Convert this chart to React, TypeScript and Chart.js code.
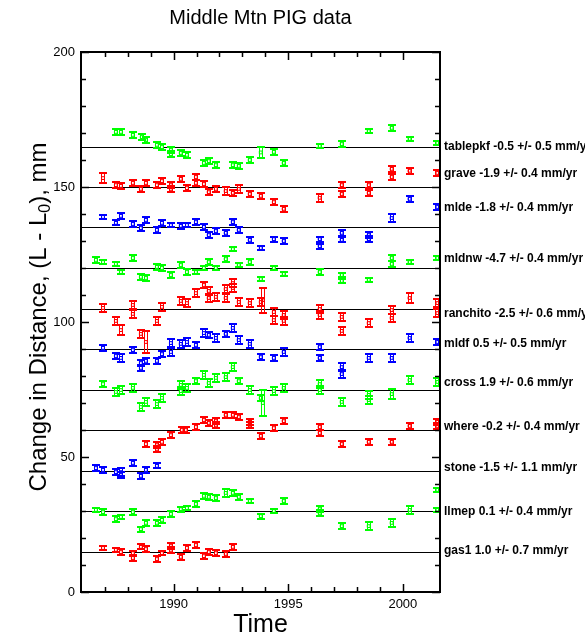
import React, { useEffect, useRef } from "react";
import { Chart, registerables } from "chart.js";
Chart.register(...registerables);

const FONT = '"Liberation Sans", Arial, Helvetica, sans-serif';
const TITLE = "Middle Mtn PIG data";
const X_TITLE = "Time";
const Y_TITLE_PARTS = ["Change in Distance, (L - L", "0", "), mm"];

const X_MIN = 1985.96;
const X_MAX = 2001.62;
const Y_MIN = 0;
const Y_MAX = 200;

const seriesNames = ["tablepkf", "grave", "mlde", "mldnw", "ranchito", "mldf", "cross", "where", "stone", "llmep", "gas1"];
const seriesColors = ["#00ff00", "#ff0000", "#0000ff", "#00ff00", "#ff0000", "#0000ff", "#00ff00", "#ff0000", "#0000ff", "#00ff00", "#ff0000"];
const baselines = [165, 150, 135, 120, 105, 90, 75, 60, 45, 30, 15];
const labelTexts = [
  "tablepkf -0.5 +/- 0.5 mm/yr",
  "grave -1.9 +/- 0.4 mm/yr",
  "mlde -1.8 +/- 0.4 mm/yr",
  "mldnw -4.7 +/- 0.4 mm/yr",
  "ranchito -2.5 +/- 0.6 mm/yr",
  "mldf 0.5 +/- 0.5 mm/yr",
  "cross 1.9 +/- 0.6 mm/yr",
  "where -0.2 +/- 0.4 mm/yr",
  "stone -1.5 +/- 1.1 mm/yr",
  "llmep 0.1 +/- 0.4 mm/yr",
  "gas1 1.0 +/- 0.7 mm/yr",
];
const labelY = [165.1, 154.8, 142.5, 123.6, 103.0, 92.1, 77.5, 61.2, 46.2, 29.7, 15.3];

// [year, value (mm), half error (mm)]
type P = [number, number, number];

const tablepkf: P[] = [
  [1987.48, 170.4, 1.0], [1987.70, 170.4, 1.0], [1988.22, 169.3, 1.0], [1988.61, 168.5, 1.0],
  [1988.79, 167.4, 1.2], [1989.27, 165.6, 1.0], [1989.49, 164.8, 1.0], [1989.88, 163.7, 1.0],
  [1989.88, 162.2, 1.0], [1990.31, 162.6, 1.0], [1990.58, 161.9, 1.0], [1991.32, 158.9, 1.0],
  [1991.53, 159.6, 1.2], [1991.84, 158.1, 1.0], [1992.58, 158.1, 1.0], [1992.84, 157.8, 1.0],
  [1993.32, 160.0, 1.0], [1993.80, 162.8, 2.1], [1994.37, 163.0, 1.0], [1994.80, 158.9, 1.0],
  [1996.37, 165.2, 0.8], [1997.33, 165.9, 1.0], [1998.51, 170.7, 0.8], [1999.51, 171.9, 1.0],
  [2000.29, 167.8, 0.8], [2001.51, 166.3, 0.7],
];
const grave: P[] = [
  [1986.92, 153.3, 1.9], [1987.48, 150.7, 1.2], [1987.70, 150.4, 1.2], [1988.22, 151.5, 1.2],
  [1988.57, 149.3, 1.2], [1988.79, 151.5, 1.2], [1989.27, 150.7, 1.2], [1989.49, 152.2, 1.2],
  [1989.88, 150.7, 1.2], [1989.88, 149.3, 1.0], [1990.31, 153.0, 1.2], [1990.58, 149.6, 1.2],
  [1990.97, 153.7, 1.2], [1990.97, 151.5, 1.2], [1991.32, 151.1, 1.2], [1991.53, 148.1, 1.2],
  [1991.84, 149.3, 1.2], [1992.27, 148.5, 1.4], [1992.58, 147.8, 1.2], [1992.84, 149.3, 1.4],
  [1993.32, 147.4, 1.0], [1993.80, 146.7, 1.2], [1994.37, 144.4, 1.0], [1994.80, 141.9, 1.0],
  [1996.37, 146.0, 1.4], [1997.33, 150.7, 1.0], [1997.33, 147.4, 1.0], [1998.51, 150.7, 1.0],
  [1998.51, 147.8, 1.0], [1999.51, 156.7, 1.0], [1999.51, 153.7, 1.0], [2000.29, 156.0, 1.2],
  [2001.51, 155.2, 1.0],
];
const mlde: P[] = [
  [1986.92, 138.9, 0.9], [1987.48, 136.7, 0.9], [1987.70, 139.3, 1.2], [1988.22, 136.3, 1.0],
  [1988.57, 134.8, 1.0], [1988.79, 137.8, 1.0], [1989.27, 134.1, 1.2], [1989.49, 136.7, 1.2],
  [1989.88, 135.9, 0.9], [1990.31, 135.6, 1.0], [1990.58, 135.9, 0.9], [1990.97, 137.0, 1.2],
  [1991.32, 135.2, 1.0], [1991.53, 132.2, 1.0], [1991.84, 133.7, 1.2], [1992.27, 133.0, 1.2],
  [1992.58, 137.0, 1.2], [1992.84, 134.1, 1.0], [1993.32, 130.4, 1.2], [1993.80, 127.4, 0.8],
  [1994.37, 130.7, 0.9], [1994.80, 130.0, 1.0], [1996.37, 130.7, 0.9], [1996.37, 128.1, 0.9],
  [1997.33, 133.0, 1.0], [1997.33, 130.4, 0.9], [1998.51, 132.2, 1.0], [1998.51, 130.7, 1.0],
  [1999.51, 138.5, 1.4], [2000.29, 145.6, 1.0], [2001.51, 142.6, 1.0],
];
const mldnw: P[] = [
  [1986.61, 123.0, 1.0], [1986.92, 122.2, 0.9], [1987.48, 121.5, 0.9], [1987.70, 118.5, 0.8],
  [1988.22, 123.7, 1.2], [1988.57, 116.7, 1.0], [1988.79, 116.3, 1.0], [1989.27, 120.4, 1.0],
  [1989.49, 120.0, 1.0], [1989.88, 117.4, 1.2], [1990.31, 121.1, 1.0], [1990.58, 118.5, 1.0],
  [1990.97, 118.5, 0.9], [1991.32, 120.0, 0.8], [1991.53, 122.2, 1.0], [1991.84, 120.0, 0.8],
  [1992.27, 123.3, 1.0], [1992.58, 127.0, 0.8], [1992.84, 121.1, 0.8], [1993.32, 122.2, 1.0],
  [1993.80, 115.9, 0.8], [1994.37, 120.0, 0.8], [1994.80, 117.8, 0.8], [1996.37, 118.5, 1.2],
  [1997.33, 117.4, 0.9], [1997.33, 115.2, 0.9], [1998.51, 115.6, 0.8], [1999.51, 123.7, 1.0],
  [1999.51, 121.5, 1.0], [2000.29, 122.2, 0.9], [2001.51, 123.7, 0.9],
];
const ranchito: P[] = [
  [1986.92, 105.2, 1.6], [1987.48, 100.4, 1.6], [1987.70, 97.0, 1.8], [1988.22, 106.3, 1.4],
  [1988.22, 103.0, 1.4], [1988.57, 95.6, 1.6], [1988.79, 92.6, 4.1], [1989.27, 100.4, 1.6],
  [1989.49, 105.6, 1.6], [1990.31, 107.8, 1.6], [1990.58, 107.0, 1.6], [1990.97, 110.7, 1.6],
  [1991.32, 113.7, 1.2], [1991.53, 111.5, 1.6], [1991.53, 108.9, 1.4], [1991.84, 109.3, 1.6],
  [1992.27, 112.2, 1.6], [1992.27, 108.9, 1.4], [1992.58, 114.4, 1.4], [1992.58, 112.6, 1.4],
  [1992.84, 107.4, 1.6], [1993.32, 107.0, 1.6], [1993.80, 107.4, 1.6], [1993.89, 108.1, 4.6],
  [1994.37, 103.7, 1.4], [1994.37, 100.7, 1.4], [1994.80, 102.6, 1.6], [1994.80, 100.4, 1.4],
  [1996.37, 104.8, 1.6], [1996.37, 102.6, 1.4], [1997.33, 101.9, 1.4], [1997.33, 96.7, 1.4],
  [1998.51, 99.6, 1.6], [1999.51, 104.4, 1.4], [1999.51, 101.5, 1.4], [2000.29, 108.9, 1.8],
  [2001.51, 107.0, 1.4], [2001.51, 103.3, 1.4],
];
const mldf: P[] = [
  [1986.92, 90.4, 1.0], [1987.48, 87.4, 1.2], [1987.70, 86.7, 1.6], [1988.22, 89.6, 1.2],
  [1988.57, 84.8, 1.2], [1988.57, 83.0, 1.2], [1988.79, 85.6, 1.2], [1989.27, 85.6, 1.2],
  [1989.49, 88.1, 1.2], [1989.88, 92.2, 1.4], [1989.88, 88.9, 1.4], [1990.31, 91.9, 1.4],
  [1990.58, 92.6, 1.4], [1990.97, 91.5, 1.0], [1991.32, 95.9, 1.4], [1991.53, 95.2, 1.2],
  [1991.84, 94.1, 1.4], [1992.27, 95.6, 1.0], [1992.58, 97.8, 1.4], [1992.84, 93.3, 1.4],
  [1993.32, 91.9, 1.4], [1993.80, 87.0, 1.0], [1994.37, 86.7, 1.0], [1994.80, 88.9, 1.4],
  [1996.37, 90.7, 1.0], [1996.37, 86.7, 1.0], [1997.33, 83.3, 1.4], [1997.33, 80.7, 1.4],
  [1998.51, 86.7, 1.6], [1999.51, 86.7, 1.6], [2000.29, 94.1, 1.6], [2001.51, 92.6, 1.2],
];
const cross: P[] = [
  [1986.92, 77.0, 1.2], [1987.48, 74.1, 1.4], [1987.70, 74.8, 1.4], [1988.22, 75.6, 1.4],
  [1988.57, 68.5, 1.6], [1988.79, 70.4, 1.4], [1989.27, 69.6, 1.6], [1989.49, 71.9, 1.6],
  [1990.31, 76.7, 1.4], [1990.31, 74.4, 1.4], [1990.58, 75.6, 1.4], [1990.97, 78.1, 1.0],
  [1991.32, 80.4, 1.4], [1991.53, 77.4, 1.4], [1991.84, 79.3, 1.6], [1992.27, 79.6, 1.6],
  [1992.58, 83.3, 1.6], [1992.84, 78.1, 1.2], [1993.32, 74.8, 1.4], [1993.80, 71.9, 1.2],
  [1993.89, 70.0, 4.8], [1994.37, 74.4, 1.4], [1994.80, 75.6, 1.4], [1996.37, 77.0, 1.6],
  [1996.37, 74.8, 1.4], [1997.33, 70.4, 1.6], [1998.51, 73.0, 1.6], [1998.51, 71.1, 1.4],
  [1999.51, 73.3, 1.8], [2000.29, 78.5, 1.6], [2001.51, 77.8, 1.6],
];
const where: P[] = [
  [1988.79, 54.8, 1.2], [1989.27, 54.4, 1.2], [1989.27, 53.0, 1.2], [1989.49, 55.6, 1.0],
  [1989.88, 58.1, 1.0], [1990.35, 60.0, 1.2], [1990.53, 60.0, 1.0], [1990.97, 61.1, 1.0],
  [1991.32, 63.7, 1.2], [1991.53, 62.6, 1.2], [1991.84, 63.3, 1.0], [1991.84, 61.9, 1.0],
  [1992.27, 65.6, 1.0], [1992.58, 65.6, 1.0], [1992.84, 64.8, 1.0], [1993.32, 63.0, 1.2],
  [1993.32, 61.9, 1.0], [1993.80, 57.8, 1.0], [1994.37, 60.7, 1.0], [1994.80, 63.3, 1.0],
  [1996.37, 61.1, 1.0], [1996.37, 58.9, 1.0], [1997.33, 54.8, 1.2], [1998.51, 55.6, 1.0],
  [1999.51, 55.6, 1.0], [2000.29, 61.5, 1.0], [2001.51, 63.0, 1.2], [2001.51, 61.5, 1.0],
];
const stone: P[] = [
  [1986.61, 45.9, 1.0], [1986.92, 45.2, 1.0], [1987.48, 44.4, 1.2], [1987.70, 44.4, 1.4],
  [1987.70, 43.3, 1.2], [1988.22, 47.8, 1.0], [1988.57, 43.0, 1.0], [1988.79, 45.2, 1.0],
  [1989.27, 46.7, 0.9],
];
const llmep: P[] = [
  [1986.61, 30.4, 0.8], [1986.92, 29.6, 1.0], [1987.48, 27.0, 1.2], [1987.70, 27.8, 0.8],
  [1988.22, 29.6, 1.2], [1988.57, 23.3, 0.9], [1988.79, 25.6, 1.2], [1989.27, 25.6, 1.2],
  [1989.49, 26.7, 1.0], [1989.88, 28.9, 1.2], [1990.31, 30.7, 0.9], [1990.58, 31.1, 0.8],
  [1990.97, 32.6, 1.0], [1991.32, 35.6, 1.2], [1991.53, 35.2, 1.0], [1991.84, 34.8, 1.2],
  [1992.27, 36.7, 1.4], [1992.58, 36.7, 1.0], [1992.84, 35.2, 1.0], [1993.32, 33.7, 0.8],
  [1993.80, 28.1, 0.9], [1994.37, 30.0, 0.9], [1994.80, 33.7, 1.2], [1996.37, 30.7, 1.0],
  [1996.37, 29.3, 1.0], [1997.33, 24.4, 1.2], [1998.51, 24.4, 1.4], [1999.51, 25.6, 1.4],
  [2000.29, 30.4, 1.4], [2001.51, 37.8, 0.8], [2001.51, 30.4, 0.8],
];
const gas1: P[] = [
  [1986.92, 16.3, 0.6], [1987.48, 15.6, 0.8], [1987.70, 14.8, 1.0], [1988.22, 14.4, 0.9],
  [1988.22, 12.6, 1.0], [1988.57, 16.7, 0.9], [1988.79, 15.9, 1.0], [1989.27, 12.2, 1.2],
  [1989.49, 14.4, 0.8], [1989.88, 17.0, 1.0], [1989.88, 15.6, 1.0], [1990.31, 13.0, 1.0],
  [1990.58, 16.3, 1.2], [1990.97, 17.4, 1.0], [1991.32, 13.3, 1.0], [1991.53, 14.8, 1.2],
  [1991.84, 14.4, 1.2], [1992.27, 14.1, 1.2], [1992.58, 16.7, 1.0],
];

const seriesData: P[][] = [tablepkf, grave, mlde, mldnw, ranchito, mldf, cross, where, stone, llmep, gas1];

const decorPlugin = {
  id: "decor",
  beforeDatasetsDraw(chart: any) {
    const { ctx, chartArea: a, scales } = chart;
    const y = scales.y;
    ctx.save();
    ctx.strokeStyle = "#000000";
    ctx.lineWidth = 1;
    baselines.forEach((b) => {
      const py = Math.round(y.getPixelForValue(b)) + 0.5;
      ctx.beginPath();
      ctx.moveTo(a.left, py);
      ctx.lineTo(a.right, py);
      ctx.stroke();
    });
    ctx.restore();
  },
  afterDatasetsDraw(chart: any) {
    const { ctx, chartArea: a, scales } = chart;
    const x = scales.x;
    const y = scales.y;
    ctx.save();
    // error bars
    chart.data.datasets.forEach((ds: any) => {
      ctx.strokeStyle = ds.borderColor;
      ds.data.forEach((p: any) => {
        const px = Math.round(x.getPixelForValue(p.x));
        const top = Math.round(y.getPixelForValue(p.y + p.e));
        const bot = Math.round(y.getPixelForValue(p.y - p.e));
        ctx.lineWidth = 2;
        ctx.beginPath();
        ctx.moveTo(px - 4, top);
        ctx.lineTo(px + 4, top);
        ctx.moveTo(px - 4, bot);
        ctx.lineTo(px + 4, bot);
        ctx.stroke();
        ctx.lineWidth = 1;
        ctx.beginPath();
        ctx.moveTo(px - 1.5, top);
        ctx.lineTo(px - 1.5, bot);
        ctx.moveTo(px + 1.5, top);
        ctx.lineTo(px + 1.5, bot);
        ctx.stroke();
      });
    });
    // frame
    ctx.strokeStyle = "#000000";
    ctx.lineWidth = 2;
    ctx.strokeRect(a.left, a.top, a.right - a.left, a.bottom - a.top);
    // inward ticks
    ctx.lineWidth = 1.5;
    ctx.beginPath();
    x.ticks.forEach((t: any) => {
      const px = Math.round(x.getPixelForValue(t.value)) + 0.5;
      const len = Math.round(t.value) % 5 === 0 ? 8 : 5;
      ctx.moveTo(px, a.bottom);
      ctx.lineTo(px, a.bottom - len);
      ctx.moveTo(px, a.top);
      ctx.lineTo(px, a.top + len);
    });
    y.ticks.forEach((t: any) => {
      const py = Math.round(y.getPixelForValue(t.value)) + 0.5;
      const len = Math.round(t.value) % 50 === 0 ? 8 : 5;
      ctx.moveTo(a.left, py);
      ctx.lineTo(a.left + len, py);
      ctx.moveTo(a.right, py);
      ctx.lineTo(a.right - len, py);
    });
    ctx.stroke();
    ctx.restore();
  },
  afterDraw(chart: any) {
    const { ctx, chartArea: a, scales } = chart;
    const y = scales.y;
    ctx.save();
    ctx.fillStyle = "#000000";
    // title
    ctx.font = `20px ${FONT}`;
    ctx.textAlign = "center";
    ctx.textBaseline = "middle";
    ctx.fillText(TITLE, (a.left + a.right) / 2, 18);
    // series labels
    ctx.font = `bold 12px ${FONT}`;
    ctx.textAlign = "left";
    labelTexts.forEach((t, i) => {
      ctx.fillText(t, a.right + 4, y.getPixelForValue(labelY[i]));
    });
    // y title with subscript
    const big = `24px ${FONT}`;
    const small = `16px ${FONT}`;
    ctx.font = big;
    const w0 = ctx.measureText(Y_TITLE_PARTS[0]).width;
    const w2 = ctx.measureText(Y_TITLE_PARTS[2]).width;
    ctx.font = small;
    const w1 = ctx.measureText(Y_TITLE_PARTS[1]).width;
    const total = w0 + w1 + w2;
    ctx.translate(46, (a.top + a.bottom) / 2 - 5);
    ctx.rotate(-Math.PI / 2);
    ctx.textBaseline = "alphabetic";
    let cx = -total / 2;
    ctx.font = big;
    ctx.fillText(Y_TITLE_PARTS[0], cx, 0);
    cx += w0;
    ctx.font = small;
    ctx.fillText(Y_TITLE_PARTS[1], cx, 4);
    cx += w1;
    ctx.font = big;
    ctx.fillText(Y_TITLE_PARTS[2], cx, 0);
    ctx.restore();
  },
};

export default function App() {
  const ref = useRef<HTMLCanvasElement>(null);
  useEffect(() => {
    document.body.style.margin = "0";
    const canvas = ref.current!;
    const chart = new Chart(canvas, {
      type: "scatter",
      data: {
        datasets: seriesData.map((d, i) => ({
          label: seriesNames[i],
          data: d.map(([x, y, e]) => ({ x, y, e })),
          borderColor: seriesColors[i],
          backgroundColor: "#ffffff",
          pointStyle: "rect",
          pointRadius: 2,
          pointBorderWidth: 1,
          clip: false,
        })),
      } as any,
      options: {
        responsive: false,
        animation: false,
        devicePixelRatio: 1,
        layout: { padding: { top: 52, right: 145, left: 0, bottom: 0 } },
        plugins: { legend: { display: false }, tooltip: { enabled: false }, title: { display: false } },
        scales: {
          x: {
            type: "linear",
            min: X_MIN,
            max: X_MAX,
            afterFit: (s: any) => {
              s.height = 52;
            },
            afterBuildTicks: (s: any) => {
              s.ticks = s.ticks.filter((t: any) => Math.abs(t.value - Math.round(t.value)) < 1e-6);
            },
            ticks: {
              stepSize: 1,
              autoSkip: false,
              maxRotation: 0,
              padding: 5,
              color: "#000000",
              font: { size: 13, family: FONT },
              callback: (v: any) => (Math.round(v) % 5 === 0 ? String(Math.round(v)) : ""),
            },
            grid: { display: false, drawTicks: false },
            border: { display: false },
            title: {
              display: true,
              text: X_TITLE,
              color: "#000000",
              font: { size: 25, family: FONT },
              padding: { top: 0, bottom: 4 },
            },
          },
          y: {
            type: "linear",
            min: Y_MIN,
            max: Y_MAX,
            afterFit: (s: any) => {
              s.width = 81;
            },
            ticks: {
              stepSize: 10,
              autoSkip: false,
              padding: 6,
              color: "#000000",
              font: { size: 13, family: FONT },
              callback: (v: any) => (Math.round(v) % 50 === 0 ? String(Math.round(v)) : ""),
            },
            grid: { display: false, drawTicks: false },
            border: { display: false },
          },
        },
      } as any,
      plugins: [decorPlugin],
    });
    return () => chart.destroy();
  }, []);
  return <canvas ref={ref} width={585} height={644} style={{ display: "block" }} />;
}
